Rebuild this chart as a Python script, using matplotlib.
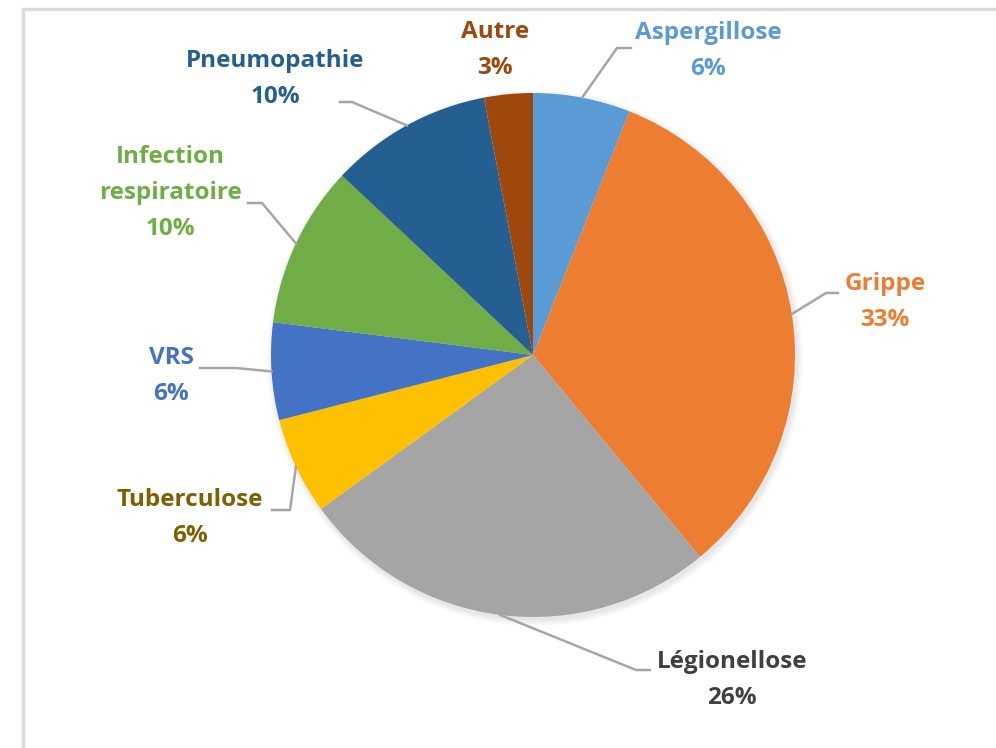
import numpy as np
import matplotlib.pyplot as plt
from matplotlib.patches import Circle

# slice data, clockwise from 12 o'clock
categories = ['Aspergillose', 'Grippe', 'Légionellose', 'Tuberculose', 'VRS',
              'Infection\nrespiratoire', 'Pneumopathie', 'Autre']
values = [6, 33, 26, 6, 6, 10, 10, 3]
pct_labels = ['6%', '33%', '26%', '6%', '6%', '10%', '10%', '3%']

colors = ['#5B9BD5', '#ED7D31', '#A5A5A5', '#FFC000', '#4472C4',
          '#70AD47', '#255E91', '#9E480E']
text_colors = ['#5B9BD5', '#ED7D31', '#404040', '#7F6000', '#4472C4',
               '#70AD47', '#255E91', '#9E480E']

W, H = 996, 748
fig = plt.figure(figsize=(W / 100, H / 100), dpi=100)
ax = fig.add_axes([0, 0, 1, 1])

def py(y):
    # pixel row -> data y
    return H - y

cx, cy, r = 533, py(355), 262

# outer frame of the chart area (right/bottom cropped)
ax.plot([23, 23, W + 5], [-5, py(9), py(9)], color='#D9D9D9', lw=2.5,
        solid_capstyle='butt', zorder=1)

# soft shadow
for i in range(8):
    ax.add_patch(Circle((cx + 2, cy - 3), r + 6 - i * 0.8, color='#000000',
                        alpha=0.012, lw=0, zorder=2))

wedges, _ = ax.pie(values, colors=colors, startangle=90, counterclock=False,
                   center=(cx, cy), radius=r, frame=True,
                   wedgeprops=dict(linewidth=0, zorder=3))
ax.set_xlim(0, W)
ax.set_ylim(0, H)
ax.set_aspect('equal')
ax.axis('off')

# label layout in pixel coords: text centre, elbow, end of leader
label_pos = [(708, 51), (885, 302), (732, 680), (190, 518), (171, 376),
             (170, 193), (275, 79), (495, 50)]
elbows = [((617, 48), (631, 48)), ((826, 293), (838, 293)),
          ((636, 670), (650, 670)), ((290, 510), (272, 510)),
          ((236, 368), (200, 368)), ((262, 203), (248, 203)),
          ((352, 102), (340, 102)), None]

for w, cat, pct, tc, pos, el in zip(wedges, categories, pct_labels,
                                    text_colors, label_pos, elbows):
    ang = np.deg2rad((w.theta1 + w.theta2) / 2)
    if el is not None:
        x0 = cx + r * np.cos(ang)
        y0 = cy + r * np.sin(ang)
        (ex, ey), (tx, ty) = el
        ax.plot([x0, ex, tx], [y0, py(ey), py(ty)], color='#A6A6A6', lw=1.8,
                zorder=4, solid_joinstyle='miter')
    ax.text(pos[0], py(pos[1]), cat + '\n' + pct, ha='center', va='center',
            color=tc, fontsize=17.5, fontweight='bold', family='Open Sans',
            linespacing=1.64, zorder=5)

fig.savefig('out.png', dpi=100)
